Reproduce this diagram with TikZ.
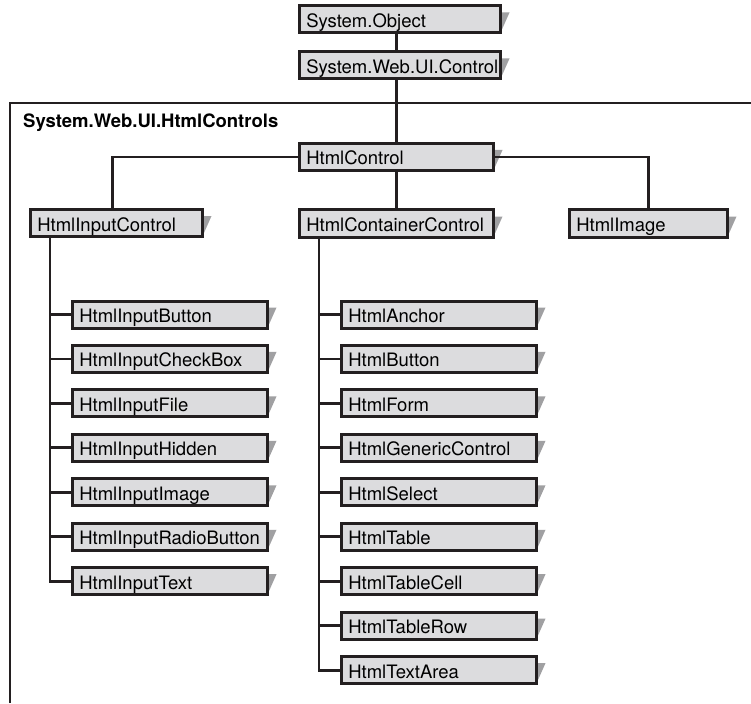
\documentclass[tikz,border=0pt]{standalone}
\usepackage{fontspec}
\setmainfont{TeX Gyre Heros}
\usetikzlibrary{calc,backgrounds}
\definecolor{boxfill}{RGB}{220,220,222}
\definecolor{shadowgray}{RGB}{160,160,162}
\definecolor{inkblack}{RGB}{35,31,32}

\tikzset{
  cls/.style={draw=inkblack, fill=boxfill, line width=3pt, anchor=west,
    text width=#1, align=left, inner xsep=6.75pt, inner ysep=4.75pt,
    text height=16.75pt, text depth=0.75pt,
    font=\fontsize{18.5}{20}\selectfont},
  link/.style={draw=inkblack, line width=2.8pt},
}

\begin{document}
\begin{tikzpicture}[x=1pt,y=-1pt]
\useasboundingbox (0,0) rectangle (751,703);
% namespace frame
\draw[inkblack,line width=2.8pt] (10,703) -- (10,103) -- (751,103);
\node[anchor=west,font=\fontsize{18.5}{20}\selectfont\bfseries,inner sep=0pt] (ns) at (23,123) {System.Web.UI.HtmlControls};
% base classes
\node[cls=187pt] (obj) at (298,19.5) {System.Object};
\node[cls=187pt] (ctrl) at (298,65.5) {System.Web.UI.Control};
\node[cls=180pt] (hc) at (298,157) {HtmlControl};
\node[cls=158pt] (hic) at (29,223) {HtmlInputControl};
\node[cls=180pt] (hcc) at (298,223.5) {HtmlContainerControl};
\node[cls=144pt] (himg) at (568,223.5) {HtmlImage};
% input controls
\foreach \t [count=\i] in {HtmlInputButton,HtmlInputCheckBox,HtmlInputFile,HtmlInputHidden,HtmlInputImage,HtmlInputRadioButton,HtmlInputText}
  {\node[cls=181pt] (in\i) at ({71},{314.5+44.45*(\i-1)}) {\t};}
% container controls
\foreach \t [count=\i] in {HtmlAnchor,HtmlButton,HtmlForm,HtmlGenericControl,HtmlSelect,HtmlTable,HtmlTableCell,HtmlTableRow,HtmlTextArea}
  {\node[cls=181pt] (cc\i) at ({340},{314.5+44.45*(\i-1)}) {\t};}
% shadows
\begin{scope}[on background layer]
\foreach \n in {obj,ctrl,hc,hic,hcc,himg}
  {\fill[shadowgray] ($(\n.north east)+(0,8)$) -- ++(8,0) -- ($(\n.south east)+(0,-4)$) -- cycle;}
\foreach \i in {1,...,7}
  {\fill[shadowgray] ($(in\i.north east)+(0,8)$) -- ++(8,0) -- ($(in\i.south east)+(0,-4)$) -- cycle;}
\foreach \i in {1,...,9}
  {\fill[shadowgray] ($(cc\i.north east)+(0,8)$) -- ++(8,0) -- ($(cc\i.south east)+(0,-4)$) -- cycle;}
\end{scope}
% hierarchy links
\path[link] (obj.south -| hc.north) -- (ctrl.north -| hc.north);
\path[link] (ctrl.south -| hc.north) -- (hc.north);
\path[link] (hc.west) -| ([xshift=-3.5pt]hic.north);
\path[link] (hc.east) -| (himg.north);
\path[link] (hc.south) -- (hcc.north);
\coordinate (ispine) at ([xshift=21pt]hic.south west);
\coordinate (cspine) at ([xshift=21pt]hcc.south west);
\path[link] (ispine) |- (in7.west);
\path[link] (cspine) |- (cc9.west);
\foreach \i in {1,...,6}
  {\path[link] (in\i.west) -- (in\i.west -| ispine);}
\foreach \i in {1,...,8}
  {\path[link] (cc\i.west) -- (cc\i.west -| cspine);}
\end{tikzpicture}
\end{document}
